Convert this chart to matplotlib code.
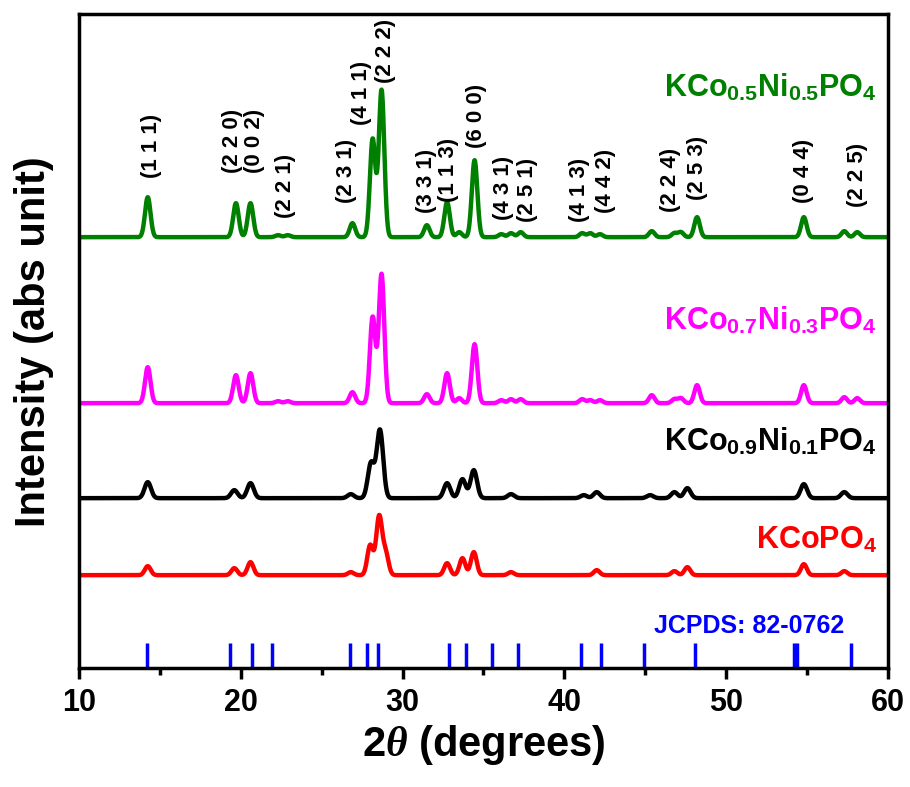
import numpy as np
import matplotlib.pyplot as plt

plt.rcParams['font.family'] = ['Liberation Sans', 'DejaVu Sans']
plt.rcParams['font.weight'] = 'bold'
plt.rcParams['mathtext.fontset'] = 'custom'
plt.rcParams['mathtext.rm'] = 'Liberation Sans:bold'
plt.rcParams['mathtext.bf'] = 'Liberation Sans:bold'
plt.rcParams['mathtext.it'] = 'Liberation Serif:italic'

# peak lists (2theta, intensity a.u.) for each composition
pos_ni05 = [14.25, 19.7, 20.6, 22.3, 22.9, 26.9, 28.15, 28.7, 31.5, 32.75, 33.5, 34.45,
            36.1, 36.7, 37.3, 41.1, 41.6, 42.2, 45.4, 46.8, 47.2, 48.2, 54.8, 57.3, 58.1]
int_ni05 = [40, 34, 34, 2, 2, 14, 98, 147, 12, 35, 5, 77,
            3, 4, 5, 4, 4, 3, 6, 4, 5, 20, 20, 6, 5]

pos_ni03 = pos_ni05
int_ni03 = [36, 28, 30, 2, 2, 11, 86, 129, 9, 30, 5, 59,
            3, 4, 4, 4, 3, 3, 8, 4, 5, 18, 18, 6, 5]

pos_ni01 = [14.25, 19.6, 20.6, 26.8, 28.05, 28.6, 32.75, 33.7, 34.4,
            36.7, 41.2, 42.0, 45.3, 46.8, 47.6, 54.8, 57.3]
int_ni01 = [16, 8, 15, 4, 35, 68, 15, 19, 28,
            4, 3, 6, 3, 6, 10, 14, 6]

pos_kco = [14.25, 19.6, 20.6, 26.8, 28.0, 28.55, 28.95, 32.75, 33.7, 34.4,
           36.7, 42.0, 46.8, 47.6, 54.8, 57.3]
int_kco = [9, 7, 13, 3, 30, 58, 22, 12, 17, 23,
           3, 5, 4, 8, 11, 4]

# JCPDS 82-0762 reference lines
ref_pos = [14.2, 19.35, 20.7, 21.9, 26.75, 27.8, 28.5, 32.85, 33.9, 35.55, 37.15,
           41.0, 42.25, 44.95, 48.05, 54.2, 54.4, 57.7]

# Miller indices marked above the top pattern
hkl_text = ['(1 1 1)', '(2 2 0)', '(0 0 2)', '(2 2 1)', '(2 3 1)', '(4 1 1)', '(2 2 2)',
            '(3 3 1)', '(1 1 3)', '(6 0 0)', '(4 3 1)', '(2 5 1)', '(4 1 3)', '(4 4 2)',
            '(2 2 4)', '(2 5 3)', '(0 4 4)', '(2 2 5)']
hkl_x = [14.5, 19.5, 20.85, 22.75, 26.55, 27.45, 28.95, 31.5, 32.85, 34.55, 36.25,
         37.75, 40.95, 42.55, 46.55, 48.2, 54.75, 58.1]
hkl_y = [490, 495, 495, 450, 465, 543, 585, 455, 466, 520, 448,
         446, 446, 455, 456, 468, 465, 461]


def pattern(x, pos, hts, w):
    y = np.zeros_like(x)
    for p, h in zip(pos, hts):
        y += h * np.exp(-0.5 * ((x - p) / w) ** 2)
    return y


tt = np.linspace(10, 60, 3001)

fig = plt.figure(figsize=(9.1, 7.87), dpi=100)
ax = fig.add_axes([0.0868, 0.151, 0.889, 0.831])

samples = [
    (pos_ni05, int_ni05, 0.17, 431, '#008000', r'KCo$_{0.5}$Ni$_{0.5}$PO$_{4}$', 572),
    (pos_ni03, int_ni03, 0.17, 265, '#ff00ff', r'KCo$_{0.7}$Ni$_{0.3}$PO$_{4}$', 339),
    (pos_ni01, int_ni01, 0.2, 170, 'black', r'KCo$_{0.9}$Ni$_{0.1}$PO$_{4}$', 218),
    (pos_kco, int_kco, 0.18, 93, '#ff0000', r'KCoPO$_{4}$', 120),
]
for pos, hts, w, off, col, name, ly in samples:
    ax.plot(tt, pattern(tt, pos, hts, w) + off, color=col, lw=3.2)
    ax.text(59.3, ly, name, color=col, fontsize=22, fontweight='bold', ha='right', va='baseline')

ax.vlines(ref_pos, 0, 25, color='#0000ff', lw=2.5)
ax.text(57.3, 35, 'JCPDS: 82-0762', color='#0000ff', fontsize=18, fontweight='bold',
        ha='right', va='baseline')

for t, x, y in zip(hkl_text, hkl_x, hkl_y):
    ax.text(x, y, t, rotation=90, ha='center', va='bottom', fontsize=16, fontweight='bold')

ax.set_xlim(10, 60)
ax.set_ylim(0, 654)
ax.set_xticks([10, 20, 30, 40, 50, 60])
ax.set_xticks([15, 25, 35, 45, 55], minor=True)
ax.set_yticks([])
ax.tick_params(axis='x', which='major', direction='out', length=8, width=2.5,
               labelsize=22, pad=6)
ax.tick_params(axis='x', which='minor', direction='out', length=5, width=2.5)
for s in ax.spines.values():
    s.set_linewidth(2.5)

ax.set_xlabel(r'2$\theta$ (degrees)', fontsize=30, fontweight='bold', labelpad=4)
ax.set_ylabel('Intensity (abs unit)', fontsize=30, fontweight='bold', labelpad=18)

fig.savefig('out.png', dpi=100)
